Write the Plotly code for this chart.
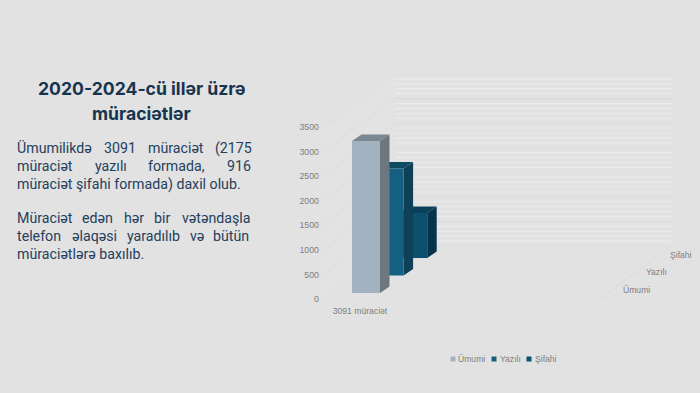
import plotly.graph_objects as go

# --- data ---
series_names = ["Ümumi", "Yazılı", "Şifahi"]
series_values = [3091, 2175, 916]
category = ["3091 müraciət"]
y_ticks = [0, 500, 1000, 1500, 2000, 2500, 3000, 3500]

W, H = 700, 393
front_colors = ["#a3b2c0", "#156082", "#0d4f6e"]
side_colors = ["#6c7780", "#0e4157", "#07334a"]
top_colors = ["#7b8791", "#0f4a63", "#0a3f59"]
GRID_MAJOR, GRID_MINOR = "#dadada", "#ececec"
SIDE_MAJOR, SIDE_MINOR = "#dedede", "#e7e7e7"
TEXT = "#24405c"
AXIS_TEXT = "#808080"

PX = 172 / 3500
Y0 = 299
def v_at(py):
    return (Y0 - py) / PX
def dv(dpx):
    return dpx / PX

LEFT, TOP, BOTTOM = 320, 60, 304
WALL_L, WALL_R = 323, 600
DEPTH_X, DEPTH_Y = 72, 53
BAR_W, BAR_X0, BAR_STEP = 28, 352, 23.6
BAR_DY, BAR_BASE = 17.5, 6
SIDE_X, SIDE_Y = 9.5, 6.5

fig = go.Figure()

def lines(xs, ys, color, width=1):
    fig.add_trace(go.Scatter(x=xs, y=ys, mode="lines", line=dict(color=color, width=width),
                             hoverinfo="skip", showlegend=False))

def wall(step, color, side_color):
    bx, by, sx, sy = [], [], [], []
    for v in range(0, 3501, step):
        bx += [WALL_L + DEPTH_X, WALL_R + DEPTH_X, None]
        by += [v + dv(DEPTH_Y), v + dv(DEPTH_Y), None]
        sx += [WALL_L, WALL_L + DEPTH_X, None]
        sy += [v, v + dv(DEPTH_Y), None]
    lines(bx, by, color)
    lines(sx, sy, side_color)

wall(100, GRID_MINOR, SIDE_MINOR)
wall(500, GRID_MAJOR, SIDE_MAJOR)
lines([WALL_R, WALL_R + DEPTH_X], [0, dv(DEPTH_Y)], GRID_MAJOR)

def poly(xs, ys, color):
    fig.add_trace(go.Scatter(x=xs + xs[:1], y=ys + ys[:1], mode="lines", fill="toself", fillcolor=color,
                             line=dict(width=0, color=color), hoverinfo="skip", showlegend=False))

for i in reversed(range(len(series_values))):
    x0 = BAR_X0 + BAR_STEP * i
    x1 = x0 + BAR_W
    b = dv(BAR_BASE + BAR_DY * i)
    t = b + series_values[i]
    sx, sy = SIDE_X, dv(SIDE_Y)
    poly([x1, x1 + sx, x1 + sx, x1], [b, b + sy, t + sy, t], side_colors[i])
    poly([x0, x1, x1 + sx, x0 + sx], [t, t, t + sy, t + sy], top_colors[i])
    poly([x0, x1, x1, x0], [b, b, t, t], front_colors[i])

leg_x = [453, 494, 529]
leg_text_x = [457, 498.5, 533.5]
LEG_Y = 359
shapes = [dict(type="rect", xref="paper", yref="paper", x0=(x - 2.5) / W, x1=(x + 2.5) / W,
               y0=1 - (LEG_Y + 2.5) / H, y1=1 - (LEG_Y - 2.5) / H,
               fillcolor=c, line=dict(width=0)) for x, c in zip(leg_x, front_colors)]

ann = []
def txt(x, y, s, size, color, anchor="left", font="Roboto", bold=False):
    ann.append(dict(x=x / W, y=1 - y / H, xref="paper", yref="paper", text=f"<b>{s}</b>" if bold else s,
                    showarrow=False, xanchor=anchor, yanchor="middle", align=anchor,
                    font=dict(family=font, size=size, color=color), borderpad=0))

txt(141, 88, "2020-2024-cü illər üzrə", 17.6, "#17344f", "center", "Inter", True)
txt(141, 113, "müraciətlər", 17.6, "#17344f", "center", "Inter", True)

BODY = 14.2
words = [
    (148, [("Ümumilikdə", 16), ("3091", 103), ("müraciət", 147), ("(2175", 214)]),
    (166, [("müraciət", 16), ("yazılı", 94), ("formada,", 147), ("916", 226)]),
    (184, [("müraciət şifahi formada) daxil olub.", 16)]),
    (218, [("Müraciət", 16), ("edən", 81), ("hər", 123), ("bir", 153), ("vətəndaşla", 181)]),
    (236, [("telefon", 16), ("əlaqəsi", 71), ("yaradılıb", 126), ("və", 189), ("bütün", 212)]),
    (254, [("müraciətlərə baxılıb.", 16)]),
]
for y, row in words:
    for s, x in row:
        txt(x, y, s, BODY, TEXT)

for s, x, y in zip(series_names, [636, 656, 681], [290, 272, 255]):
    txt(x, y, s, 8.6, AXIS_TEXT, "center", "Liberation Sans")
for s, x in zip(series_names, leg_text_x):
    txt(x, LEG_Y, s, 8.6, AXIS_TEXT, "left", "Liberation Sans")

fig.update_layout(
    width=W, height=H, margin=dict(l=0, r=0, t=0, b=0, pad=0, autoexpand=False),
    paper_bgcolor="#e2e2e2", plot_bgcolor="rgba(0,0,0,0)", showlegend=False, annotations=ann, shapes=shapes,
    xaxis=dict(domain=[LEFT / W, 1], range=[LEFT, W], showgrid=False, zeroline=False, showline=False,
               tickmode="array", tickvals=[360], ticktext=category, ticks="",
               tickfont=dict(family="Liberation Sans", size=8.6, color=AXIS_TEXT)),
    yaxis=dict(domain=[1 - BOTTOM / H, 1 - TOP / H], range=[v_at(BOTTOM), v_at(TOP)], showgrid=False,
               zeroline=False, showline=False, tickmode="array", tickvals=y_ticks, ticks="",
               tickfont=dict(family="Liberation Sans", size=8.8, color=AXIS_TEXT)),
)
fig.write_html("out.html", config=dict(displayModeBar=False),
               post_script="document.body.style.margin='0';document.documentElement.style.overflow='hidden';document.body.style.background='#e2e2e2';")
